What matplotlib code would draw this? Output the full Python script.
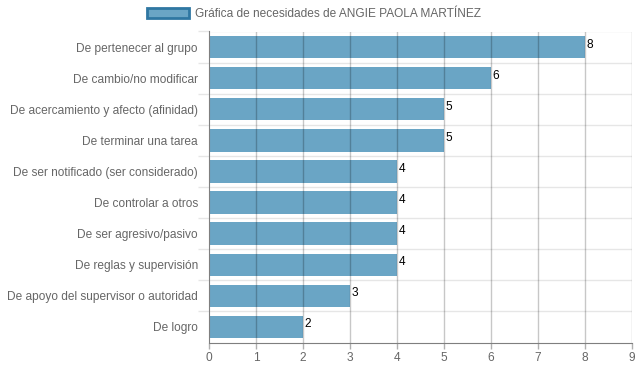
import matplotlib
matplotlib.use("Agg")
import matplotlib.pyplot as plt
from matplotlib.patches import Patch
import numpy as np

plt.rcParams['font.family'] = ['Liberation Sans', 'DejaVu Sans']

categories = ["De pertenecer al grupo", "De cambio/no modificar",
              "De acercamiento y afecto (afinidad)", "De terminar una tarea",
              "De ser notificado (ser considerado)", "De controlar a otros",
              "De ser agresivo/pasivo", "De reglas y supervisión",
              "De apoyo del supervisor o autoridad", "De logro"]
values = [8, 6, 5, 5, 4, 4, 4, 4, 3, 2]
series_name = "Gráfica de necesidades de ANGIE PAOLA MARTÍNEZ"

bar_color = "#6aa5c5"
edge_color = "#2f77a2"
text_gray = "#666666"
fs = 8.6

fig = plt.figure(figsize=(6.39, 3.72), dpi=100)
ax = fig.add_axes([209/639, 1-342.5/372, 423/639, 311/372])

y = np.arange(len(categories))
ax.barh(y, values, height=0.72, color=bar_color, zorder=2)

ax.set_xlim(0, 9)
ax.set_ylim(len(categories)-0.5, -0.5)

# x axis: ticks and vertical grid over bars
ax.set_xticks(range(0, 10))
for xv in range(1, 10):
    ax.axvline(xv, color="black", alpha=0.22, lw=1, zorder=3)
ax.tick_params(axis="x", length=4, width=1, color="#b0b0b0", colors=text_gray,
               labelsize=fs, pad=3)

# y axis: category labels, light boundary lines
ax.set_yticks(y)
ax.set_yticklabels(categories)
ax.set_yticks(np.arange(-0.5, len(categories)-0.5, 1.0), minor=True)
ax.tick_params(axis="y", which="major", length=0, colors=text_gray, labelsize=fs, pad=8)
ax.tick_params(axis="y", which="minor", length=8, width=1, color="#e6e6e6")
ax.grid(axis="y", which="minor", color="#e6e6e6", lw=1, zorder=1)

for side in ["top", "right"]:
    ax.spines[side].set_visible(False)
ax.spines["left"].set_color("#7f7f7f")
ax.spines["bottom"].set_color("#7f7f7f")
ax.spines["left"].set_zorder(4)

for yi, v in zip(y, values):
    ax.text(v + 0.03, yi - 0.08, str(v), ha="left", va="center", fontsize=fs,
            color="black", zorder=5)

handle = Patch(facecolor=bar_color, edgecolor=edge_color, linewidth=2)
fig.legend([handle], [series_name], loc="center", bbox_to_anchor=(0.492, 1-14/372),
           frameon=False, fontsize=fs, handlelength=3.5, handleheight=1.0,
           handletextpad=0.5, labelcolor=text_gray)

fig.savefig("out.png", dpi=100)
